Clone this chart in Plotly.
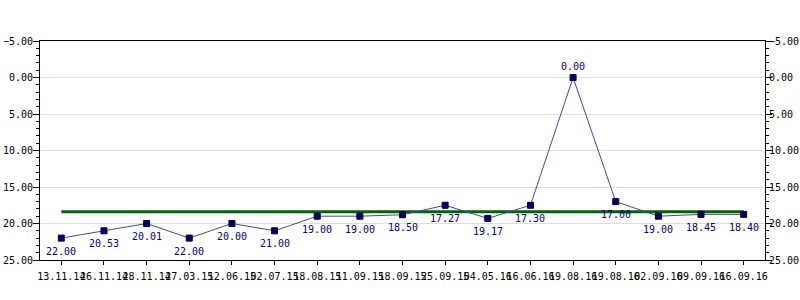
import plotly.graph_objects as go

dates = ["13.11.14", "26.11.14", "28.11.14", "27.03.15", "12.06.15", "02.07.15",
         "18.08.15", "11.09.15", "18.09.15", "25.09.15", "04.05.16", "16.06.16",
         "19.08.16", "19.08.16", "02.09.16", "09.09.16", "16.09.16"]
values = [22.0, 21.0, 20.0, 22.0, 20.0, 21.0, 19.0, 19.0, 18.8, 17.5, 19.3, 17.5,
          0.0, 17.0, 19.0, 18.75, 18.75]
labels = ["22.00", "20.53", "20.01", "22.00", "20.00", "21.00", "19.00", "19.00",
          "18.50", "17.27", "19.17", "17.30", "0.00", "17.00", "19.00", "18.45", "18.40"]
label_above = [False] * 12 + [True] + [False] * 4
threshold = 18.4

x = list(range(len(dates)))
FONT = "DejaVu Sans Mono"

fig = go.Figure()
fig.add_trace(go.Scatter(x=[x[0], x[-1]], y=[threshold, threshold], mode="lines",
                         line=dict(color="#006400", width=3), hoverinfo="skip",
                         showlegend=False))
fig.add_trace(go.Scatter(x=x, y=values, mode="lines+markers",
                         line=dict(color="#4444B0", width=1),
                         marker=dict(symbol="square", size=6, color="#000070",
                                     line=dict(color="#000030", width=1)),
                         showlegend=False))
fig.add_trace(go.Scatter(x=[x[0]], y=[values[0]], yaxis="y2", mode="markers",
                         marker=dict(opacity=0), showlegend=False, hoverinfo="skip"))

for xi, v, t, up in zip(x, values, labels, label_above):
    fig.add_annotation(x=xi, y=v, text=t, showarrow=False,
                       yshift=11 if up else -13,
                       font=dict(family=FONT, size=10, color="#000080"))

yax = dict(range=[25, -5], tickmode="linear", tick0=-5, dtick=5, tickformat=".2f",
           ticks="outside", ticklen=6, tickcolor="black", showline=True,
           linecolor="black", linewidth=1, automargin=False,
           minor=dict(ticks="outside", ticklen=3, dtick=1, tickcolor="black"),
           tickfont=dict(family=FONT, size=10, color="black"), zeroline=False)

fig.update_layout(
    width=800, height=300,
    margin=dict(l=40, r=35, t=41, b=40),
    plot_bgcolor="white", paper_bgcolor="white",
    xaxis=dict(range=[-0.5, len(dates) - 0.5], tickmode="array", tickvals=x,
               ticktext=dates, tickangle=0, ticks="outside", ticklen=4,
               tickcolor="black", showline=True, linecolor="black", linewidth=1,
               mirror=True, showgrid=False, zeroline=False, automargin=False,
               ticklabelstandoff=3,
               tickfont=dict(family=FONT, size=10, color="black")),
    yaxis=dict(**yax, showgrid=True, gridcolor="#DDDDDD", gridwidth=1,
               ticklabelstandoff=-2),
    yaxis2=dict(**yax, overlaying="y", side="right", showgrid=False,
                ticklabelstandoff=-5),
)

fig.write_html("out.html")
